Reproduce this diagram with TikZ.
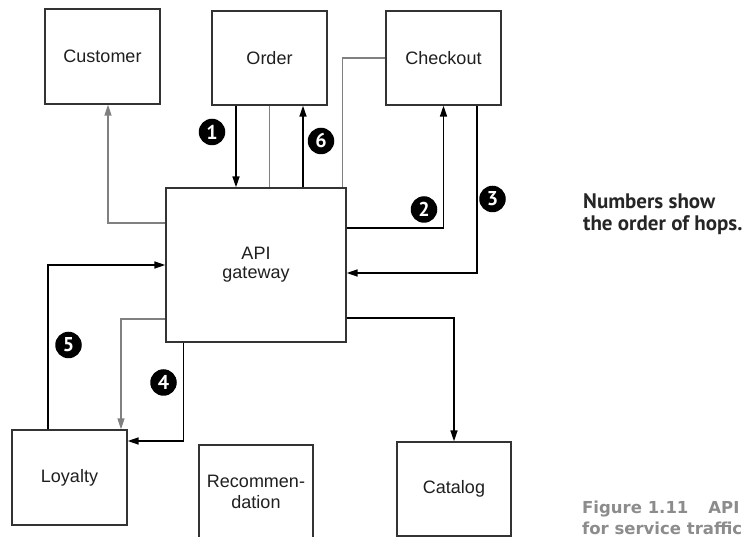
\documentclass[tikz,border=0pt]{standalone}
\usepackage{fontspec}
\setmainfont{Liberation Sans}
\newfontfamily\notefont{PT Sans}
\newfontfamily\capfont{DejaVu Sans}
\usetikzlibrary{arrows.meta,calc}
\definecolor{boxline}{HTML}{333333}
\definecolor{grayline}{HTML}{808080}
\definecolor{captext}{HTML}{8C8C8C}
\begin{document}
\begin{tikzpicture}[x=1pt,y=-1pt,
  svc/.style={draw=boxline,line width=1.3pt,fill=white,inner sep=2pt,align=center,
    font=\fontsize{18}{21}\selectfont,text=black!88},
  blk/.style={black,line width=1.6pt},
  barrow/.style={blk,-{Triangle[length=11pt,width=7pt]}},
  gline/.style={grayline,line width=1.4pt},
  garrow/.style={gline,-{Triangle[length=11pt,width=7pt]}},
  hop/.style={circle,fill=black,text=white,inner sep=0pt,minimum size=26.5pt,
    font=\notefont\bfseries\fontsize{20}{20}\selectfont},
  note/.style={anchor=base west,inner sep=0pt,text=black!85,
    font=\notefont\bfseries\fontsize{21}{22}\selectfont},
  captionline/.style={anchor=base west,inner sep=0pt,text=captext,
    font=\capfont\bfseries\fontsize{16.5}{20}\selectfont}]
\useasboundingbox (0,0) rectangle (745,537);
\clip (0,0) rectangle (745,537);

% services
\node[svc,minimum width=115pt,minimum height=95pt] (cust) at (102.5,56.5) {Customer};
\node[svc,minimum width=115pt,minimum height=94pt] (order) at (269.5,58) {Order};
\node[svc,minimum width=115pt,minimum height=94pt] (chk) at (443.5,58) {Checkout};
\node[svc,minimum width=180pt,minimum height=154pt] (gw) at (256,265)
  {\raisebox{-5pt}{\begin{tabular}{@{}c@{}}API\\[-2pt]gateway\end{tabular}}};
\node[svc,minimum width=115pt,minimum height=95pt] (loy) at (69.5,477.5) {Loyalty};
\node[svc,minimum width=114pt,minimum height=93pt] (rec) at (256,491.5) {Recommen-\\dation};
\node[svc,minimum width=114pt,minimum height=94pt] (cat) at (454,489) {Catalog};

% gateway to customer
\draw[garrow] ([yshift=42pt]gw.west) -| ([xshift=5.5pt]cust.south);
% order hops
\draw[barrow] ([xshift=-33.5pt]order.south) -- ([xshift=-33.5pt]order.south |- gw.north);
\draw[gline] (order.south) -- (order.south |- gw.north);
\draw[barrow] ([xshift=33.5pt]order.south |- gw.north) -- ([xshift=33.5pt]order.south);
% checkout hops
\draw[gline] ([xshift=-4pt]gw.north east) |- (chk.west);
\draw[barrow] ([yshift=37pt]gw.east) -| (chk.south);
\draw[barrow] ([xshift=33.5pt]chk.south) |- ([yshift=-8pt]gw.east);
% catalog
\draw[barrow] ([yshift=-53pt]gw.east) -| (cat.north);
% loyalty hops
\draw[barrow] ([xshift=-21.5pt]loy.north) |- (gw.west);
\draw[garrow] ([yshift=-54pt]gw.west) -| ([xshift=51.5pt]loy.north);
\draw[barrow] ([xshift=18pt]gw.south west) |- ([yshift=36.5pt]loy.east);

% hop numbers
\node[hop] (n1) at (212,132) {1};
\node[hop] (n2) at (424,209.5) {2};
\node[hop] (n3) at (492.5,199) {3};
\node[hop] (n4) at (163.5,382.5) {4};
\node[hop] (n5) at (68.5,345) {5};
\node[hop] (n6) at (321,141) {6};

% annotation and caption
\node[note] (legend1) at (583,209) {Numbers show};
\node[note] (legend2) at (583,231) {the order of hops.};
\node[captionline] (cap1) at (582,513) {Figure 1.11\hspace{20pt}API};
\node[captionline] (cap2) at (582,534) {for service traffic};
\end{tikzpicture}
\end{document}
